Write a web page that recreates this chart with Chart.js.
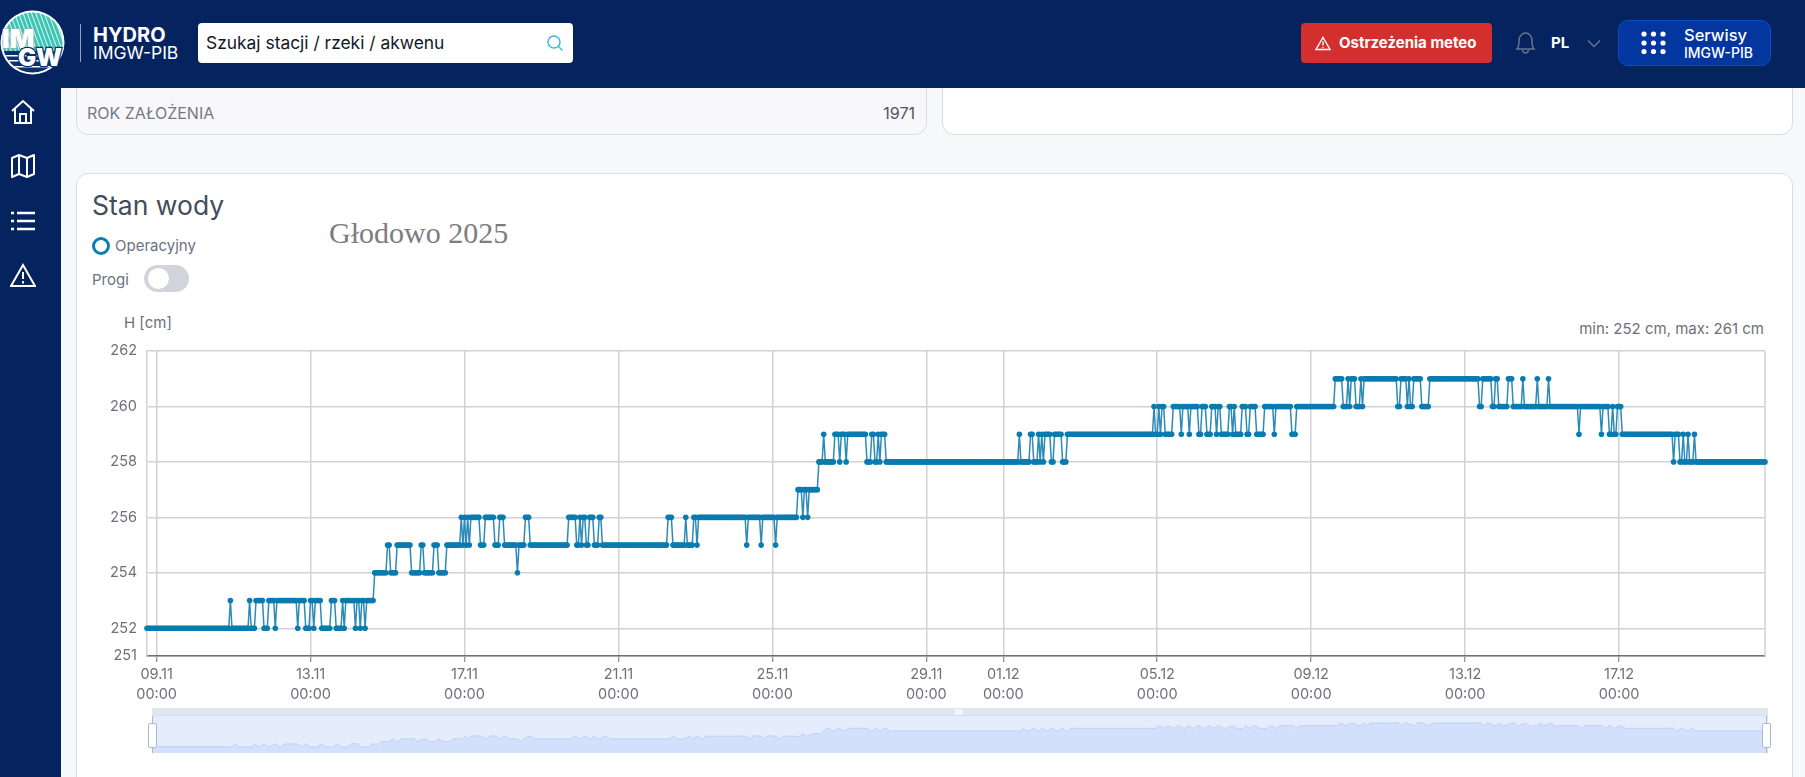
<!DOCTYPE html>
<html lang="pl">
<head>
<meta charset="utf-8">
<title>Stan wody - Głodowo 2025</title>
<script src="https://cdn.jsdelivr.net/npm/chart.js"></script>
<style>
html, body { margin: 0; padding: 0; width: 1805px; height: 777px; overflow: hidden; background: #f7f8fa; font-family: Inter, sans-serif; }
.abs { position: absolute; white-space: nowrap; }
#header { position: absolute; left: 0; top: 0; width: 1805px; height: 88px; background: #05245f; }
#sidebar { position: absolute; left: 0; top: 88px; width: 61px; height: 689px; background: #05245f; }
.card { position: absolute; box-sizing: border-box; border: 1px solid #d9dce8; }
#search { position: absolute; left: 198px; top: 23px; width: 375px; height: 40px; background: #fff; border-radius: 4px; }
#redBtn { position: absolute; left: 1301px; top: 23px; width: 191px; height: 40px; background: #d32f2f; border-radius: 4px; }
#serwisy { position: absolute; left: 1618px; top: 20px; width: 153px; height: 46px; box-sizing: border-box; background: #0436a0; border: 1px solid #0e4cc6; border-radius: 10px; }
#chartBox { position: absolute; left: 76px; top: 331px; width: 1716px; height: 374px; }
#sliderBack { position: absolute; left: 152px; top: 708px; width: 1616px; height: 45px; background: #e5edfd; }
#sliderHead { position: absolute; left: 152px; top: 708px; width: 1616px; height: 8px; background: #dfe5f1; border-bottom: 1px solid #d5ddf0; box-sizing: border-box; }
#sliderBox { position: absolute; left: 152px; top: 716px; width: 1616px; height: 37px; }
.handle { position: absolute; top: 723px; width: 7px; height: 23px; background: #fff; border: 1px solid #acb8d1; border-radius: 2px; }
.handleLine { position: absolute; top: 716px; width: 1px; height: 37px; background: #acb8d1; }
</style>
</head>
<body>
<div class="card" style="left:76px;top:70px;width:851px;height:65px;background:#f8f8fa;border-radius:12px"></div>
<div class="card" style="left:942px;top:70px;width:851px;height:65px;background:#fff;border-radius:12px"></div>
<div class="abs" style="left:87px;top:103px;font-size:16px;line-height:20px;color:#737a86">ROK ZAŁOŻENIA</div>
<div class="abs" style="right:890px;top:103px;font-size:16px;line-height:20px;color:#4b5563">1971</div>
<div class="card" style="left:76px;top:173px;width:1717px;height:640px;background:#fff;border-radius:12px"></div>

<div id="header"></div>
<div id="sidebar"></div>

<svg class="abs" style="left:0;top:10px" width="66" height="66" viewBox="0 0 66 66">
  <defs>
    <pattern id="stripes" width="4" height="4" patternUnits="userSpaceOnUse" patternTransform="rotate(-20)">
      <rect width="4" height="4" fill="#3cc4b4"/><rect width="1" height="4" fill="#dff5f2"/>
    </pattern>
    <clipPath id="disc"><circle cx="32.5" cy="32.5" r="30"/></clipPath>
  </defs>
  <circle cx="32.5" cy="32.5" r="32" fill="#fff"/>
  <g clip-path="url(#disc)">
    <rect x="0" y="0" width="66" height="42" fill="url(#stripes)"/>
    <rect x="0" y="41" width="66" height="25" fill="#0a2f6b"/>
    <rect x="0" y="45" width="66" height="1.5" fill="#fff"/>
    <rect x="0" y="50" width="66" height="1.5" fill="#fff"/>
    <rect x="0" y="56" width="66" height="1.5" fill="#fff"/>
  </g>
  <text x="2" y="38" font-family="Inter" font-weight="900" font-size="26" fill="#fff" stroke="#9fb0b8" stroke-width="1" paint-order="stroke">IM</text>
  <text x="18" y="56" font-family="Inter" font-weight="900" font-size="24" fill="#fff" stroke="#0a2f6b" stroke-width="2.4" paint-order="stroke">GW</text>
</svg>
<div class="abs" style="left:80px;top:24px;width:1px;height:38px;background:#8fa0c0"></div>
<div class="abs" style="left:93px;top:23px;font-size:20px;line-height:24px;font-weight:700;color:#fff">HYDRO</div>
<div class="abs" style="left:93px;top:42px;font-size:17.5px;line-height:22px;color:#fff">IMGW-PIB</div>

<div id="search"></div>
<div class="abs" style="left:206px;top:32px;font-size:17.4px;line-height:22px;color:#111827">Szukaj stacji / rzeki / akwenu</div>
<svg class="abs" style="left:546px;top:34px" width="18" height="18" viewBox="0 0 18 18" fill="none" stroke="#3db7e8" stroke-width="1.5">
  <circle cx="8" cy="8" r="6"/><path d="M12.5 12.5 L16.5 16.5"/>
</svg>

<div id="redBtn"></div>
<svg class="abs" style="left:1315px;top:36px" width="16" height="15" viewBox="0 0 16 15" fill="none" stroke="#fff" stroke-width="1.4">
  <path d="M8 1.5 L15 13.5 H1 Z"/><path d="M8 5.5 V9.5 M8 11 V12.2"/>
</svg>
<div class="abs" style="left:1339px;top:33px;font-size:15px;line-height:20px;font-weight:700;color:#fff">Ostrzeżenia meteo</div>

<svg class="abs" style="left:1514px;top:31px" width="23" height="24" viewBox="0 0 23 24" fill="none" stroke="#66758f" stroke-width="1.5">
  <path d="M3 18 C5 16 5 13 5 10 C5 5 8 2 11.5 2 C15 2 18 5 18 10 C18 13 18 16 20 18 Z"/><path d="M8.5 19 C9 23 14 23 14.5 19"/>
</svg>
<div class="abs" style="left:1551px;top:33px;font-size:15px;line-height:20px;font-weight:700;color:#fff">PL</div>
<svg class="abs" style="left:1587px;top:39px" width="14" height="9" viewBox="0 0 14 9" fill="none" stroke="#66758f" stroke-width="1.5">
  <path d="M1 1.5 L7 7.5 L13 1.5"/>
</svg>

<div id="serwisy"></div>
<svg class="abs" style="left:1640px;top:30px" width="27" height="25" viewBox="0 0 27 25" fill="#fff">
  <circle cx="4" cy="4" r="2.6"/><circle cx="13.5" cy="4" r="2.6"/><circle cx="23" cy="4" r="2.6"/>
  <circle cx="4" cy="13" r="2.6"/><circle cx="13.5" cy="13" r="2.6"/><circle cx="23" cy="13" r="2.6"/>
  <circle cx="4" cy="21.5" r="2.6"/><circle cx="13.5" cy="21.5" r="2.6"/><circle cx="23" cy="21.5" r="2.6"/>
</svg>
<div class="abs" style="left:1684px;top:25px;font-size:16.5px;line-height:20px;font-weight:500;color:#fff">Serwisy</div>
<div class="abs" style="left:1684px;top:44px;font-size:14px;line-height:18px;font-weight:500;color:#fff">IMGW-PIB</div>

<svg class="abs" style="left:10px;top:99px" width="26" height="26" viewBox="0 0 26 26" fill="none" stroke="#fff" stroke-width="2">
  <path d="M2 12 L13 2 L24 12"/><path d="M5 10 V24 H21 V10"/><path d="M10 24 V15 H16 V24"/>
</svg>
<svg class="abs" style="left:10px;top:153px" width="26" height="26" viewBox="0 0 26 26" fill="none" stroke="#fff" stroke-width="2" stroke-linejoin="round">
  <path d="M2 5 L9 2 L17 5 L24 2 V21 L17 24 L9 21 L2 24 Z"/><path d="M9 2 V21 M17 5 V24"/>
</svg>
<svg class="abs" style="left:10px;top:209px" width="26" height="24" viewBox="0 0 26 24" fill="none" stroke="#fff" stroke-width="2.4">
  <path d="M7 4 H25 M7 12 H25 M7 20 H25 M1 4 H4 M1 12 H4 M1 20 H4"/>
</svg>
<svg class="abs" style="left:10px;top:263px" width="26" height="25" viewBox="0 0 26 25" fill="none" stroke="#fff" stroke-width="2">
  <path d="M13 2 L25 23 H1 Z"/><path d="M13 9 V16 M13 18 V20.5"/>
</svg>

<div class="abs" style="left:92px;top:189px;font-size:26.5px;line-height:32px;font-weight:400;color:#434c59">Stan wody</div>
<div class="abs" style="left:329px;top:215px;font-family:'Liberation Serif',serif;font-size:30px;line-height:36px;color:#7d7d7d">Głodowo 2025</div>
<div class="abs" style="left:92px;top:237px;width:18px;height:18px;box-sizing:border-box;border:3.5px solid #0a7fb0;border-radius:50%"></div>
<div class="abs" style="left:115px;top:236px;font-size:15px;line-height:20px;color:#6b7280">Operacyjny</div>
<div class="abs" style="left:92px;top:270px;font-size:15px;line-height:20px;color:#6b7280">Progi</div>
<div class="abs" style="left:144px;top:265px;width:45px;height:27px;background:#d1d5db;border-radius:14px"></div>
<div class="abs" style="left:148px;top:268px;width:21px;height:21px;background:#fff;border-radius:50%"></div>
<div class="abs" style="left:124px;top:313px;font-size:15px;line-height:20px;color:#6e7079">H [cm]</div>
<div class="abs" style="right:41px;top:319px;font-size:15px;line-height:20px;color:#6e7079">min: 252 cm, max: 261 cm</div>

<div id="chartBox"><canvas id="stanChart"></canvas></div>
<div id="sliderBack"></div>
<div id="sliderBox"><canvas id="sliderChart"></canvas></div>
<div id="sliderHead"></div>
<div class="abs" style="left:955px;top:709px;width:8px;height:6px;background:#f4f6fb;border-radius:1px"></div>
<div class="handleLine" style="left:152px"></div>
<div class="handle" style="left:148px"></div>
<div class="handleLine" style="left:1766px"></div>
<div class="handle" style="left:1762px"></div>

<script>
// first reading is 6 h before 09.11 00:00, then one reading per hour
const firstHour = -6;

const yTicks = [251, 252, 254, 256, 258, 260, 262];
const xTickHours = [0, 96, 192, 288, 384, 480, 528, 624, 720, 816, 912];
const xTickDates = ['09.11', '13.11', '17.11', '21.11', '25.11', '29.11', '01.12', '05.12', '09.12', '13.12', '17.12'];
const xTickTime = '00:00';

const levels = [
  252,252,252,252,252,252,
  // 09.11
  252,252,252,252,252,252,252,252,252,252,252,252,252,252,252,252,252,252,252,252,252,252,252,252,
  252,252,252,252,252,252,252,252,252,252,252,252,252,252,252,252,252,252,252,252,252,252,253,252,
  252,252,252,252,252,252,252,252,252,252,253,252,252,252,253,253,253,253,253,252,252,252,253,253,
  253,253,252,253,253,253,253,253,253,253,253,253,253,253,253,253,252,253,253,253,253,252,252,252,
  // 13.11
  253,253,252,253,253,253,253,252,252,252,252,252,252,253,253,253,252,252,252,252,253,252,253,253,
  253,253,253,253,252,253,253,252,253,253,252,253,253,253,253,253,254,254,254,254,254,254,254,254,
  255,255,254,254,254,254,255,255,255,255,255,255,255,255,255,254,254,254,254,254,254,255,255,254,
  254,254,254,254,254,255,255,255,254,254,254,254,254,255,255,255,255,255,255,255,255,255,256,255,
  // 17.11
  256,255,256,255,256,256,256,256,256,256,255,255,255,256,256,256,256,256,256,255,255,255,256,256,
  256,255,255,255,255,255,255,255,255,254,255,255,255,255,256,256,256,255,255,255,255,255,255,255,
  255,255,255,255,255,255,255,255,255,255,255,255,255,255,255,255,255,256,256,256,256,256,255,255,
  256,255,256,256,255,255,256,256,256,255,255,255,256,256,255,255,255,255,255,255,255,255,255,255,
  // 21.11
  255,255,255,255,255,255,255,255,255,255,255,255,255,255,255,255,255,255,255,255,255,255,255,255,
  255,255,255,255,255,255,255,256,256,256,255,255,255,255,255,255,255,255,256,255,255,255,255,256,
  256,255,256,256,256,256,256,256,256,256,256,256,256,256,256,256,256,256,256,256,256,256,256,256,
  256,256,256,256,256,256,256,256,255,256,256,256,256,256,256,256,256,255,256,256,256,256,256,256,
  // 25.11
  256,256,255,256,256,256,256,256,256,256,256,256,256,256,256,256,257,257,257,256,257,257,256,257,
  257,257,257,257,257,258,258,258,259,258,258,258,258,258,258,259,259,259,258,259,259,259,258,259,
  259,259,259,259,259,259,259,259,259,259,259,258,258,258,259,259,258,258,259,258,259,259,259,258,
  258,258,258,258,258,258,258,258,258,258,258,258,258,258,258,258,258,258,258,258,258,258,258,258,
  // 29.11
  258,258,258,258,258,258,258,258,258,258,258,258,258,258,258,258,258,258,258,258,258,258,258,258,
  258,258,258,258,258,258,258,258,258,258,258,258,258,258,258,258,258,258,258,258,258,258,258,258,
  // 01.12
  258,258,258,258,258,258,258,258,258,258,259,258,258,258,258,258,258,259,259,258,258,258,259,258,
  259,258,259,259,259,259,258,258,259,259,259,259,259,258,258,258,259,259,259,259,259,259,259,259,
  259,259,259,259,259,259,259,259,259,259,259,259,259,259,259,259,259,259,259,259,259,259,259,259,
  259,259,259,259,259,259,259,259,259,259,259,259,259,259,259,259,259,259,259,259,259,259,260,259,
  // 05.12
  259,260,259,260,260,259,259,259,259,259,260,260,260,260,260,259,260,260,260,260,259,260,260,260,
  260,260,259,259,260,260,260,259,259,259,260,260,260,259,260,260,259,259,259,259,259,260,260,259,
  260,259,259,259,259,260,260,260,259,259,260,260,260,260,259,259,259,259,259,260,260,260,260,260,
  260,259,260,260,260,260,260,260,260,260,260,260,259,259,259,260,260,260,260,260,260,260,260,260,
  // 09.12
  260,260,260,260,260,260,260,260,260,260,260,260,260,260,260,261,261,261,261,261,260,260,260,261,
  260,261,261,261,260,260,260,261,260,261,261,261,261,261,261,261,261,261,261,261,261,261,261,261,
  261,261,261,261,261,261,260,260,261,261,261,261,260,261,260,260,261,261,261,261,261,260,260,260,
  260,260,261,261,261,261,261,261,261,261,261,261,261,261,261,261,261,261,261,261,261,261,261,261,
  // 13.12
  261,261,261,261,261,261,261,261,261,260,260,261,261,261,261,261,261,260,260,261,261,260,260,260,
  260,260,260,261,261,261,260,260,260,260,260,260,261,260,260,260,260,260,260,260,260,261,260,260,
  260,260,260,260,261,260,260,260,260,260,260,260,260,260,260,260,260,260,260,260,260,260,260,259,
  260,260,260,260,260,260,260,260,260,260,260,260,260,259,260,260,260,260,259,259,260,259,259,260,
  // 17.12
  260,260,259,259,259,259,259,259,259,259,259,259,259,259,259,259,259,259,259,259,259,259,259,259,
  259,259,259,259,259,259,259,259,259,259,258,259,259,259,258,258,259,258,258,259,258,258,258,259,
  258,258,258,258,258,258,258,258,258,258,258,258,258,258,258,258,258,258,258,258,258,258,258,258,
  258,258,258,258,258,258,258,258,258,258,258,258,258,258,258,258,258,258,258,258
];

const points = levels.map(function(v, i) { return { x: firstHour + i, y: v }; });
const lastHour = firstHour + levels.length - 1;

const tickFont = { family: 'Inter', size: 14.5, lineHeight: 1.38 };
const tickColor = '#6e7079';

// right frame line, the axes only draw left and bottom
const rightFrame = {
  id: 'rightFrame',
  beforeDatasetsDraw: function(chart) {
    const a = chart.chartArea;
    const ctx = chart.ctx;
    ctx.save();
    ctx.strokeStyle = '#d2d2d2';
    ctx.lineWidth = 1.5;
    ctx.beginPath();
    ctx.moveTo(a.right, a.top);
    ctx.lineTo(a.right, a.bottom);
    ctx.stroke();
    ctx.restore();
  }
};

document.addEventListener('DOMContentLoaded', function() {
  new Chart(document.getElementById('stanChart'), {
    type: 'line',
    plugins: [rightFrame],
    data: {
      datasets: [{
        label: 'Stan wody',
        data: points,
        borderColor: '#2d8bb9',
        borderWidth: 1.5,
        backgroundColor: '#0a7bb0',
        pointBackgroundColor: '#0a7bb0',
        pointBorderWidth: 0,
        pointRadius: 2.8,
        tension: 0,
        clip: 8
      }]
    },
    options: {
      responsive: true,
      maintainAspectRatio: false,
      animation: false,
      layout: { padding: { top: 0, right: 27, left: 0, bottom: 0 } },
      plugins: { legend: { display: false }, tooltip: { enabled: false } },
      scales: {
        x: {
          type: 'linear',
          min: firstHour,
          max: lastHour,
          afterBuildTicks: function(scale) {
            scale.ticks = xTickHours.map(function(h) { return { value: h }; });
          },
          afterFit: function(scale) { scale.height = 49; },
          grid: { color: '#d2d2d2', lineWidth: 1.5, tickColor: '#6e7079', tickLength: 6, tickWidth: 1 },
          border: { color: '#6e7079', width: 1.5 },
          ticks: {
            autoSkip: false,
            maxRotation: 0,
            padding: 3,
            font: tickFont,
            color: tickColor,
            callback: function(value, index) { return [xTickDates[index], xTickTime]; }
          }
        },
        y: {
          type: 'linear',
          min: 251,
          max: 262,
          afterBuildTicks: function(scale) {
            scale.ticks = yTicks.map(function(v) { return { value: v }; });
          },
          afterFit: function(scale) { scale.width = 71; },
          grid: { color: '#d2d2d2', lineWidth: 1.5, drawTicks: false },
          border: { color: '#d2d2d2', width: 1.5 },
          ticks: { padding: 10, font: tickFont, color: tickColor }
        }
      }
    }
  });

  new Chart(document.getElementById('sliderChart'), {
    type: 'line',
    data: {
      datasets: [{
        data: points,
        parsing: false,
        borderColor: '#bccdf3',
        borderWidth: 0.9,
        backgroundColor: '#d2e0fb',
        fill: 'start',
        pointRadius: 0,
        tension: 0.3
      }]
    },
    options: {
      responsive: true,
      maintainAspectRatio: false,
      animation: false,
      parsing: false,
      layout: { padding: 0 },
      plugins: {
        legend: { display: false },
        tooltip: { enabled: false },
        decimation: { enabled: true, algorithm: 'lttb', samples: 320, threshold: 100 }
      },
      scales: {
        x: { type: 'linear', display: false, min: firstHour, max: lastHour },
        y: { type: 'linear', display: false, min: 249.6, max: 263.7 }
      }
    }
  });
});
</script>
</body>
</html>
